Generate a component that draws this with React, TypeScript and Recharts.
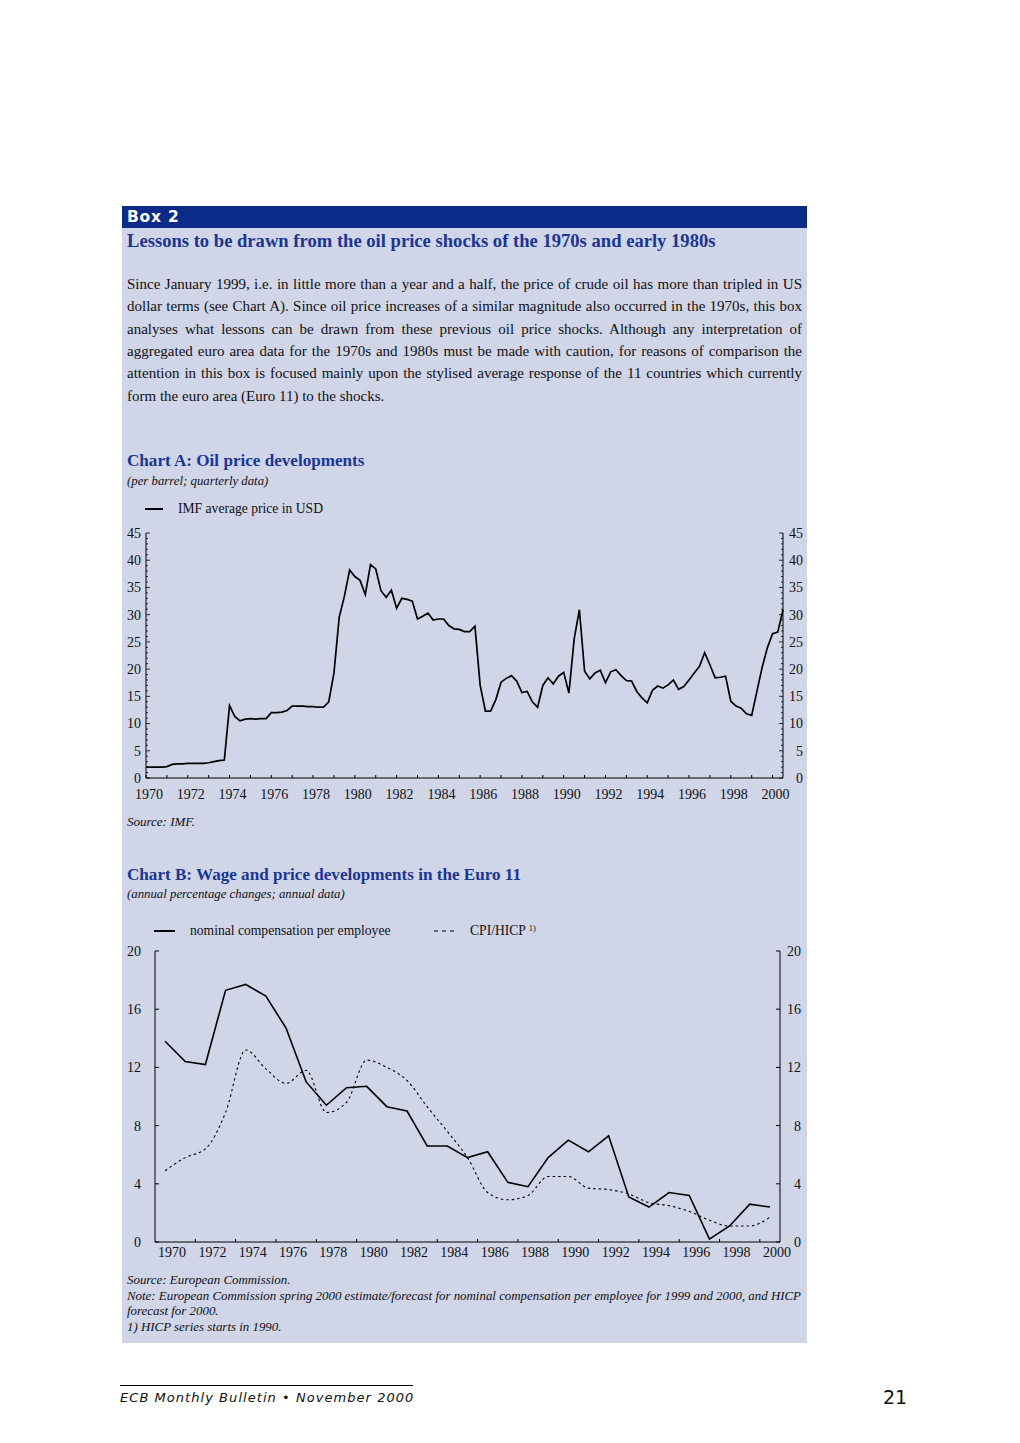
import React from 'react'
import { LineChart, Line, XAxis, YAxis } from 'recharts'

// Chart A: IMF average oil price in USD, quarterly 1970Q1 - 2000Q3
const oilPrice = [
  2.0, 2.0, 2.0, 2.0,
  2.1, 2.5, 2.6, 2.6,
  2.7, 2.7, 2.7, 2.7,
  2.8, 3.0, 3.2, 3.3,
  13.3, 11.3, 10.5, 10.8,
  10.9, 10.8, 10.9, 10.9,
  12.0, 12.0, 12.1, 12.4,
  13.2, 13.2, 13.2, 13.1,
  13.1, 13.0, 13.0, 14.0,
  19.3, 29.5, 33.4, 38.2,
  37.0, 36.3, 33.7, 39.2,
  38.4, 34.4, 33.2, 34.5,
  31.2, 33.0, 32.8, 32.5,
  29.2, 29.7, 30.3, 29.0,
  29.2, 29.2, 28.0, 27.4,
  27.3, 26.9, 26.9, 27.9,
  17.0, 12.3, 12.3, 14.4,
  17.6, 18.3, 18.8, 17.8,
  15.7, 15.9, 14.0, 13.0,
  17.0, 18.4, 17.3, 18.7,
  19.4, 15.6, 25.5, 30.9,
  19.6, 18.2, 19.3, 19.8,
  17.5, 19.5, 19.9, 18.8,
  17.9, 17.8, 15.9, 14.7,
  13.8, 16.1, 16.9, 16.5,
  17.1, 18.0, 16.3, 16.8,
  18.0, 19.3, 20.5, 23.0,
  20.8, 18.4, 18.5, 18.7,
  14.1, 13.2, 12.8, 11.8,
  11.5, 15.9, 20.3, 23.9,
  26.5, 26.8, 30.9,
]
const oilData = oilPrice.map((v, i) => ({ t: 1970 + i / 4, price: v }))

const yearsA = [
  1970, 1971, 1972, 1973, 1974, 1975, 1976, 1977, 1978, 1979, 1980, 1981, 1982, 1983, 1984, 1985,
  1986, 1987, 1988, 1989, 1990, 1991, 1992, 1993, 1994, 1995, 1996, 1997, 1998, 1999, 2000,
]
const oilTicks = [
  0, 1, 2, 3, 4, 5, 6, 7, 8, 9, 10, 11, 12, 13, 14, 15, 16, 17, 18, 19, 20, 21, 22, 23,
  24, 25, 26, 27, 28, 29, 30, 31, 32, 33, 34, 35, 36, 37, 38, 39, 40, 41, 42, 43, 44, 45,
]

// Chart B: annual % changes, Euro 11
const yearsB = [
  1970, 1971, 1972, 1973, 1974, 1975, 1976, 1977, 1978, 1979, 1980, 1981, 1982, 1983, 1984, 1985,
  1986, 1987, 1988, 1989, 1990, 1991, 1992, 1993, 1994, 1995, 1996, 1997, 1998, 1999, 2000,
]
const compensation = [
  13.8, 12.4, 12.2, 17.3, 17.7, 16.9, 14.7, 11.0, 9.4, 10.6, 10.7, 9.3, 9.0, 6.6, 6.6, 5.8,
  6.2, 4.1, 3.8, 5.8, 7.0, 6.2, 7.3, 3.1, 2.4, 3.4, 3.2, 0.2, 1.1, 2.6, 2.4,
]
const cpi = [
  4.9, 5.8, 6.4, 8.9, 13.2, 11.9, 10.9, 11.8, 8.9, 9.6, 12.5, 12.0, 11.1, 9.3, 7.6, 5.8,
  3.4, 2.9, 3.2, 4.5, 4.5, 3.7, 3.6, 3.3, 2.7, 2.5, 2.1, 1.5, 1.1, 1.1, 1.7,
]
const wageData = yearsB.map((y, i) => ({ year: y, comp: compensation[i], cpi: cpi[i] }))
const labelYearsB = [1970, 1972, 1974, 1976, 1978, 1980, 1982, 1984, 1986, 1988, 1990, 1992, 1994, 1996, 1998, 2000]
const wageTicks = [0, 4, 8, 12, 16, 20]

const paragraph = [
  'Since January 1999, i.e. in little more than a year and a half, the price of crude oil has more than tripled in US',
  'dollar terms (see Chart A). Since oil price increases of a similar magnitude also occurred in the 1970s, this box',
  'analyses what lessons can be drawn from these previous oil price shocks. Although any interpretation of',
  'aggregated euro area data for the 1970s and 1980s must be made with caution, for reasons of comparison the',
  'attention in this box is focused mainly upon the stylised average response of the 11 countries which currently',
  'form the euro area (Euro 11) to the shocks.',
]

const notes = [
  'Source: European Commission.',
  'Note: European Commission spring 2000 estimate/forecast for nominal compensation per employee for 1999 and 2000, and HICP',
  'forecast for 2000.',
  '1)  HICP series starts in 1990.',
]

const SERIF = '"Liberation Serif", "Times New Roman", serif'
const BLUE = '#1b3592'
const BG = '#d0d5e8'

// chart A geometry (local px)
const A_W = 720
const A_H = 300
const A_L = 46
const A_R = 37
const A_T = 13
const A_B = 42
const A_AXL = A_L
const A_AXR = A_W - A_R
const A_BOT = A_H - A_B

// chart B geometry
const B_W = 720
const B_H = 340
const B_L = 55
const B_R = 40
const B_T = 16
const B_B = 33
const B_AXL = B_L
const B_AXR = B_W - B_R
const B_BOT = B_H - B_B
const B_PX_YEAR = (B_W - B_L - B_R) / 31

const tickFont = { fontFamily: SERIF, fontSize: 14, fill: '#111' }

function AXTick(props: any) {
  const { x, payload } = props
  const yr = payload.value
  return (
    <g>
      <line x1={x} x2={x} y1={A_BOT} y2={A_BOT - 3} stroke='#000' strokeWidth={1} />
      {yr % 2 === 0 && (
        <text x={x + 3} y={A_BOT + 21} textAnchor='middle' {...tickFont}>
          {yr}
        </text>
      )}
    </g>
  )
}

function AYTickLeft(props: any) {
  const { y, payload } = props
  const v = payload.value
  const major = v % 5 === 0
  return (
    <g>
      <line x1={A_AXL} x2={A_AXL + (major ? 4 : 2)} y1={y} y2={y} stroke='#000' strokeWidth={0.8} />
      {major && (
        <text x={A_AXL - 5} y={y} dy='0.35em' textAnchor='end' {...tickFont}>
          {v}
        </text>
      )}
    </g>
  )
}

function AYTickRight(props: any) {
  const { y, payload } = props
  const v = payload.value
  const major = v % 5 === 0
  return (
    <g>
      <line x1={A_AXR} x2={A_AXR - (major ? 4 : 2)} y1={y} y2={y} stroke='#000' strokeWidth={0.8} />
      {major && (
        <text x={A_AXR + 20} y={y} dy='0.35em' textAnchor='end' {...tickFont}>
          {v}
        </text>
      )}
    </g>
  )
}

function BXTick(props: any) {
  const { x, payload } = props
  const yr = payload.value
  const tx = x + 1.5 * B_PX_YEAR
  return (
    <g>
      {yr < 2000 && <line x1={tx} x2={tx} y1={B_BOT} y2={B_BOT - 3} stroke='#000' strokeWidth={1} />}
      <text x={x + 7} y={B_BOT + 15} textAnchor='middle' {...tickFont}>
        {yr}
      </text>
    </g>
  )
}

function BYTickLeft(props: any) {
  const { y, payload } = props
  return (
    <g>
      <line x1={B_AXL} x2={B_AXL + 4} y1={y} y2={y} stroke='#000' strokeWidth={1} />
      <text x={B_AXL - 14} y={y} dy='0.35em' textAnchor='end' {...tickFont}>
        {payload.value}
      </text>
    </g>
  )
}

function BYTickRight(props: any) {
  const { y, payload } = props
  return (
    <g>
      <line x1={B_AXR} x2={B_AXR - 4} y1={y} y2={y} stroke='#000' strokeWidth={1} />
      <text x={B_AXR + 21} y={y} dy='0.35em' textAnchor='end' {...tickFont}>
        {payload.value}
      </text>
    </g>
  )
}

const abs = (left: number, top: number, extra: React.CSSProperties = {}): React.CSSProperties => ({
  position: 'absolute',
  left,
  top,
  ...extra,
})

export default function App() {
  const axisLine = { stroke: '#000', strokeWidth: 1 }
  return (
    <div style={{ position: 'absolute', left: 0, top: 0, width: 1020, height: 1443, background: '#fff', fontFamily: SERIF }}>
      {/* box */}
      <div style={abs(122, 206, { width: 685, height: 1137, background: BG })} />
      <div style={abs(122, 206, { width: 685, height: 22, background: '#0c2b89' })} />
      <div
        style={abs(127, 206, {
          lineHeight: '22px',
          fontFamily: '"DejaVu Sans", Verdana, sans-serif',
          fontWeight: 'bold',
          fontSize: 15.5,
          color: '#fff',
          letterSpacing: 0.8,
        })}
      >
        Box 2
      </div>
      <div style={abs(127, 230, { lineHeight: '22px', fontSize: 18.6, fontWeight: 'bold', color: BLUE, whiteSpace: 'nowrap' })}>
        Lessons to be drawn from the oil price shocks of the 1970s and early 1980s
      </div>

      <div style={abs(127, 272.8, { width: 675, fontSize: 15, lineHeight: '22.4px', color: '#111' })}>
        {paragraph.map((line, i) => (
          <div
            key={i}
            style={{
              whiteSpace: 'nowrap',
              textAlign: 'justify',
              textAlignLast: i < paragraph.length - 1 ? 'justify' : 'left',
            }}
          >
            {line}
          </div>
        ))}
      </div>

      {/* Chart A */}
      <div style={abs(127, 450, { lineHeight: '22px', fontSize: 17.1, fontWeight: 'bold', color: BLUE })}>
        Chart A: Oil price developments
      </div>
      <div style={abs(127, 472, { lineHeight: '18px', fontSize: 12.8, fontStyle: 'italic', color: '#111' })}>
        (per barrel; quarterly data)
      </div>
      <div style={abs(145, 508, { width: 18, height: 2, background: '#000' })} />
      <div style={abs(178, 500, { lineHeight: '18px', fontSize: 13.6, color: '#111' })}>IMF average price in USD</div>

      <div style={abs(100, 520)}>
        <LineChart width={A_W} height={A_H} data={oilData} margin={{ top: A_T, right: 0, bottom: 0, left: 0 }}>
          <XAxis
            dataKey='t'
            type='number'
            domain={[1970, 2000.5]}
            ticks={yearsA}
            interval={0}
            height={A_B}
            axisLine={axisLine}
            tickLine={false}
            tick={<AXTick />}
          />
          <YAxis
            yAxisId='l'
            domain={[0, 45]}
            ticks={oilTicks}
            interval={0}
            width={A_L}
            axisLine={axisLine}
            tickLine={false}
            tick={<AYTickLeft />}
          />
          <YAxis
            yAxisId='r'
            orientation='right'
            domain={[0, 45]}
            ticks={oilTicks}
            interval={0}
            width={A_R}
            axisLine={axisLine}
            tickLine={false}
            tick={<AYTickRight />}
          />
          <Line
            yAxisId='l'
            type='linear'
            dataKey='price'
            stroke='#000'
            strokeWidth={1.7}
            dot={false}
            isAnimationActive={false}
          />
          <Line
            yAxisId='r'
            type='linear'
            dataKey='price'
            stroke='none'
            dot={false}
            legendType='none'
            isAnimationActive={false}
          />
        </LineChart>
      </div>

      <div style={abs(127, 813, { lineHeight: '18px', fontSize: 13, fontStyle: 'italic', color: '#111' })}>Source: IMF.</div>

      {/* Chart B */}
      <div style={abs(127, 864, { lineHeight: '22px', fontSize: 17.1, fontWeight: 'bold', color: BLUE })}>
        Chart B: Wage and price developments in the Euro 11
      </div>
      <div style={abs(127, 885, { lineHeight: '18px', fontSize: 12.8, fontStyle: 'italic', color: '#111' })}>
        (annual percentage changes; annual data)
      </div>
      <div style={abs(154, 930, { width: 21, height: 2, background: '#000' })} />
      <div style={abs(190, 922, { lineHeight: '18px', fontSize: 13.6, color: '#111' })}>nominal compensation per employee</div>
      <svg style={abs(434, 926)} width={20} height={10}>
        <line x1={0} x2={20} y1={5} y2={5} stroke='#000' strokeWidth={1} strokeDasharray='4 4' />
      </svg>
      <div style={abs(470, 922, { lineHeight: '18px', fontSize: 13.6, color: '#111' })}>
        CPI/HICP <sup style={{ fontSize: 8.5, verticalAlign: 'top', lineHeight: '12px' }}>1)</sup>
      </div>

      <div style={abs(100, 935)}>
        <LineChart width={B_W} height={B_H} data={wageData} margin={{ top: B_T, right: 0, bottom: 0, left: 0 }}>
          <XAxis
            dataKey='year'
            type='number'
            domain={[1969.5, 2000.5]}
            ticks={labelYearsB}
            interval={0}
            height={B_B}
            axisLine={axisLine}
            tickLine={false}
            tick={<BXTick />}
          />
          <YAxis
            yAxisId='l'
            domain={[0, 20]}
            ticks={wageTicks}
            interval={0}
            width={B_L}
            axisLine={axisLine}
            tickLine={false}
            tick={<BYTickLeft />}
          />
          <YAxis
            yAxisId='r'
            orientation='right'
            domain={[0, 20]}
            ticks={wageTicks}
            interval={0}
            width={B_R}
            axisLine={axisLine}
            tickLine={false}
            tick={<BYTickRight />}
          />
          <Line
            yAxisId='l'
            type='linear'
            dataKey='comp'
            stroke='#000'
            strokeWidth={1.6}
            dot={false}
            isAnimationActive={false}
          />
          <Line
            yAxisId='l'
            type='monotone'
            dataKey='cpi'
            stroke='#000'
            strokeWidth={1.1}
            strokeDasharray='2.5 3'
            dot={false}
            isAnimationActive={false}
          />
          <Line
            yAxisId='r'
            type='linear'
            dataKey='comp'
            stroke='none'
            dot={false}
            legendType='none'
            isAnimationActive={false}
          />
        </LineChart>
      </div>

      <div style={abs(127, 1273, { fontSize: 12.9, lineHeight: '15.5px', fontStyle: 'italic', color: '#111' })}>
        {notes.map((n, i) => (
          <div key={i} style={{ whiteSpace: 'nowrap' }}>
            {n}
          </div>
        ))}
      </div>

      {/* footer */}
      <div style={abs(120, 1385, { width: 293, height: 1, background: '#000' })} />
      <div
        style={abs(120, 1389, {
          lineHeight: '18px',
          fontSize: 13,
          fontStyle: 'italic',
          fontFamily: '"DejaVu Sans", sans-serif',
          letterSpacing: 1.05,
          color: '#111',
          whiteSpace: 'nowrap',
        })}
      >
        ECB Monthly Bulletin • November 2000
      </div>
      <div style={abs(883, 1386, { lineHeight: '22px', fontSize: 19, fontFamily: '"DejaVu Sans", sans-serif', color: '#111' })}>
        21
      </div>
    </div>
  )
}
